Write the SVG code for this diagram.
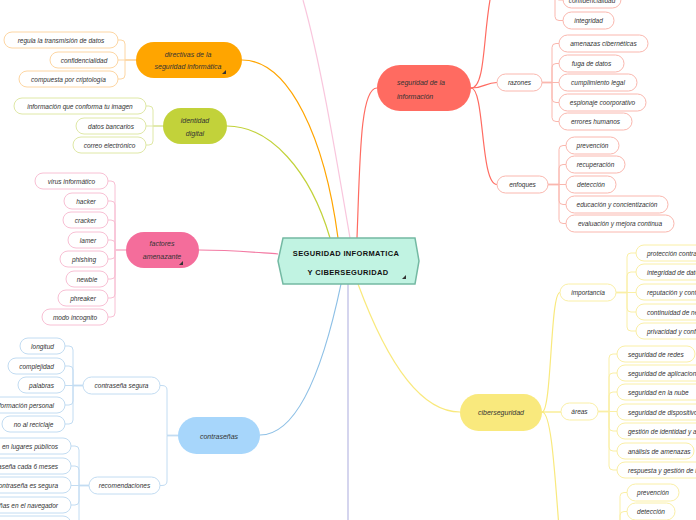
<svg xmlns="http://www.w3.org/2000/svg" width="696" height="520" viewBox="0 0 696 520">
<style>
.t{font-family:"Liberation Sans",Arial,sans-serif;font-style:italic;font-size:6.5px;fill:#333;text-anchor:middle;dominant-baseline:central}
.ts{text-anchor:start}
.te{text-anchor:end}
.m{font-family:"Liberation Sans",Arial,sans-serif;font-style:italic;font-size:7px;fill:#333;text-anchor:middle;dominant-baseline:central}
.title{font-family:"Liberation Sans",Arial,sans-serif;font-weight:bold;font-size:7.5px;letter-spacing:0.35px;fill:#111;text-anchor:middle;dominant-baseline:central}
.b{fill:#fff;stroke-width:1}
.co{stroke:#fdd6a3}.cg{stroke:#dfe8a6}.cp{stroke:#f8c0d4}.cb{stroke:#c2dcf2}.cr{stroke:#fab7ae}.cy{stroke:#faefa6}
path{fill:none}
.lo{stroke:#fdd6a3}.lg{stroke:#dfe8a6}.lp{stroke:#f8c0d4}.lb{stroke:#c2dcf2}.lr{stroke:#fab7ae}.ly{stroke:#faefa6}
.w1{stroke-width:1}.w2{stroke-width:1.8}
.tri{fill:#333}
</style>
<g id="connectors">
<path d="M338,238 C325,140 290,60 242,60" stroke="#ffa500" stroke-width="1.2"/>
<path d="M330,238 C310,170 270,126 227,126" stroke="#c2d23a" stroke-width="1.2"/>
<path d="M278,254 C250,252 230,250 199,250" stroke="#f37aa3" stroke-width="1.2"/>
<path d="M350,238 C335,150 320,60 303,0" stroke="#f9c6dd" stroke-width="1.2"/>
<path d="M341,284 C325,360 300,435 260,435" stroke="#8ec0e6" stroke-width="1.2"/>
<path d="M348,284 V520" stroke="#d5d5ee" stroke-width="2"/>
<path d="M357,238 C360,160 360,88 377,88" stroke="#ff6b61" stroke-width="1.2"/>
<path d="M358,284 C375,330 410,412 460,412" stroke="#f9e97d" stroke-width="1.2"/>
<path d="M471,88 C485,88 483,40 490,0" stroke="#ff6b61" stroke-width="1.2"/>
<path d="M471,88 C485,88 485,82.5 497,82.5" stroke="#ff6b61" stroke-width="1.2"/>
<path d="M471,88 C485,88 480,184.5 497,184.5" stroke="#ff6b61" stroke-width="1.2"/>
<path d="M542,412 C552,412 550,292.5 560,292.5" stroke="#f9e97d" stroke-width="1.2"/>
<path d="M542,412 H561" stroke="#f9e97d" stroke-width="1.2"/>
<path d="M542,412 C552,412 555,480 560,540" stroke="#f9e97d" stroke-width="1.2"/>
<path class="lo w2" d="M136,60 H125"/>
<path class="lo w1" d="M125,60 V44 Q125,40 121,40 H118 M125,60 H118 M125,60 V75 Q125,79 121,79 H118"/>
<path class="lg w2" d="M163,126 H153"/>
<path class="lg w1" d="M153,126 V110 Q153,106 149,106 H146 M153,126 H146 M153,126 V141 Q153,145 149,145 H146"/>
<path class="lp w2" d="M126,250 H115"/>
<path class="lp w1" d="M115,250 V185 Q115,181 111,181 H108 M115,250 V205 Q115,201 111,201 H108 M115,250 V224 Q115,220 111,220 H108 M115,250 V244 Q115,240 111,240 H108 M115,250 V255 Q115,259 111,259 H108 M115,250 V275 Q115,279 111,279 H108 M115,250 V294 Q115,298 111,298 H108 M115,250 V313 Q115,317 111,317 H108"/>
<path class="lb w2" d="M178,435.5 H167"/>
<path class="lb w1" d="M167,435.5 V390 Q167,385.5 162,385.5 H160 M167,435.5 V481 Q167,485.5 162,485.5 H160"/>
<path class="lb w2" d="M83,385.5 H73"/>
<path class="lb w1" d="M73,385.5 V350 Q73,346 69,346 H65 M73,385.5 V370 Q73,366 69,366 H65 M73,385.5 H65 M73,385.5 V401 Q73,405 69,405 H65 M73,385.5 V420 Q73,424 69,424 H65"/>
<path class="lb w2" d="M89,485.5 H79"/>
<path class="lb w1" d="M79,485.5 V450 Q79,446 75,446 H71 M79,485.5 V470 Q79,466 75,466 H71 M79,485.5 H71 M79,485.5 V501 Q79,505 75,505 H71 M79,485.5 V520 Q79,524 75,524 H71"/>
<path class="lr w2" d="M542,82.5 H552"/>
<path class="lr w1" d="M552,82.5 V47.5 Q552,43.5 556,43.5 H559 M552,82.5 V67.5 Q552,63.5 556,63.5 H559 M552,82.5 H559 M552,82.5 V98.5 Q552,102.5 556,102.5 H559 M552,82.5 V117.5 Q552,121.5 556,121.5 H559"/>
<path class="lr w2" d="M548,184.5 H559"/>
<path class="lr w1" d="M559,184.5 V149.5 Q559,145.5 563,145.5 H566 M559,184.5 V168.5 Q559,164.5 563,164.5 H566 M559,184.5 H566 M559,184.5 V200.5 Q559,204.5 563,204.5 H566 M559,184.5 V219.5 Q559,223.5 563,223.5 H566"/>
<path class="lr w1" d="M555,-20 V-4 Q555,0 559,0 H563 M555,-20 V16.5 Q555,20.5 559,20.5 H563"/>
<path class="ly w2" d="M616,292.5 H627"/>
<path class="ly w1" d="M627,292.5 V257 Q627,253 631,253 H636 M627,292.5 V276 Q627,272 631,272 H636 M627,292.5 H636 M627,292.5 V308 Q627,312 631,312 H636 M627,292.5 V327 Q627,331 631,331 H636"/>
<path class="ly w2" d="M598,411.5 H609"/>
<path class="ly w1" d="M609,411.5 V358 Q609,354 613,354 H617 M609,411.5 V377 Q609,373 613,373 H617 M609,411.5 V396 Q609,392 613,392 H617 M609,411.5 H617 M609,411.5 V427 Q609,431 613,431 H617 M609,411.5 V447 Q609,451 613,451 H617 M609,411.5 V466 Q609,470 613,470 H617"/>
<path class="ly w1" d="M620,540 V496.5 Q620,492.5 624,492.5 H627 M620,540 V515.5 Q620,511.5 624,511.5 H627"/>
</g>

<g id="central">
<polygon points="283,238 415,238 419,261 415,284 283,284 278,261" fill="#c1f3e2" stroke="#74b9a3" stroke-width="1.5"/>
<text class="title" x="346" y="253">SEGURIDAD INFORMATICA</text>
<text class="title" x="348" y="272">Y CIBERSEGURIDAD</text>
<polygon class="tri" points="402,279 406,279 406,275"/>
</g>

<g id="directivas">
<rect x="136" y="42" width="106" height="36" rx="18" fill="#ffa500"/>
<text class="m" x="188" y="54">directivas de la</text>
<text class="m" x="188" y="66">seguridad informática</text>
<polygon class="tri" points="222,74 226,74 226,70"/>
</g>
<g id="dir-c1"><rect class="b co" x="4" y="32" width="114" height="16" rx="8"/><text class="t" x="61" y="40">regula la transmisión de datos</text></g>
<g id="dir-c2"><rect class="b co" x="50" y="52" width="68" height="16" rx="8"/><text class="t" x="84" y="60">confidencialidad</text></g>
<g id="dir-c3"><rect class="b co" x="19" y="71" width="99" height="16" rx="8"/><text class="t" x="68.5" y="79">compuesta por criptología</text></g>

<g id="identidad">
<rect x="163" y="108" width="64" height="36" rx="18" fill="#c2d23a"/>
<text class="m" x="195" y="120">identidad</text>
<text class="m" x="195" y="133">digital</text>
</g>
<g id="id-c1"><rect class="b cg" x="14" y="98" width="132" height="16" rx="8"/><text class="t" x="80" y="106">información que conforma tu imagen</text></g>
<g id="id-c2"><rect class="b cg" x="76" y="118" width="70" height="16" rx="8"/><text class="t" x="111" y="126">datos bancarios</text></g>
<g id="id-c3"><rect class="b cg" x="73" y="137" width="73" height="16" rx="8"/><text class="t" x="109.5" y="145">correo electrónico</text></g>

<g id="factores">
<rect x="126" y="232" width="73" height="36" rx="18" fill="#f46d9b"/>
<text class="m" x="162" y="243">factores</text>
<text class="m" x="162" y="256">amenazante</text>
<polygon class="tri" points="179,265 183,265 183,261"/>
</g>
<g id="fa-c1"><rect class="b cp" x="35" y="173" width="73" height="16" rx="8"/><text class="t" x="71.5" y="181">virus informático</text></g>
<g id="fa-c2"><rect class="b cp" x="64" y="193" width="44" height="16" rx="8"/><text class="t" x="86" y="201">hacker</text></g>
<g id="fa-c3"><rect class="b cp" x="63" y="212" width="45" height="16" rx="8"/><text class="t" x="85.5" y="220">cracker</text></g>
<g id="fa-c4"><rect class="b cp" x="68" y="232" width="40" height="16" rx="8"/><text class="t" x="88" y="240">lamer</text></g>
<g id="fa-c5"><rect class="b cp" x="60" y="251" width="48" height="16" rx="8"/><text class="t" x="84" y="259">phishing</text></g>
<g id="fa-c6"><rect class="b cp" x="66" y="271" width="42" height="16" rx="8"/><text class="t" x="87" y="279">newbie</text></g>
<g id="fa-c7"><rect class="b cp" x="58" y="290" width="50" height="16" rx="8"/><text class="t" x="83" y="298">phreaker</text></g>
<g id="fa-c8"><rect class="b cp" x="42" y="309" width="66" height="16" rx="8"/><text class="t" x="75" y="317">modo incognito</text></g>

<g id="contrasenas">
<rect x="178" y="417" width="82" height="37" rx="18.5" fill="#a7d6fb"/>
<text class="m" x="219" y="436">contraseñas</text>
</g>
<g id="co-c1"><rect class="b cb" x="83" y="377" width="77" height="17" rx="8.5"/><text class="t" x="121.5" y="385.5">contraseña segura</text></g>
<g id="co-c2"><rect class="b cb" x="89" y="477" width="71" height="17" rx="8.5"/><text class="t" x="124.5" y="485.5">recomendaciones</text></g>
<g id="cs-1"><rect class="b cb" x="20" y="338" width="45" height="16" rx="8"/><text class="t" x="42.5" y="346">longitud</text></g>
<g id="cs-2"><rect class="b cb" x="8" y="358" width="57" height="16" rx="8"/><text class="t" x="36.5" y="366">complejidad</text></g>
<g id="cs-3"><rect class="b cb" x="18" y="377" width="47" height="16" rx="8"/><text class="t" x="41.5" y="385">palabras</text></g>
<g id="cs-4"><rect class="b cb" x="-20" y="397" width="85" height="16" rx="8"/><text class="t te" x="54" y="405">información personal</text></g>
<g id="cs-5"><rect class="b cb" x="2" y="416" width="63" height="16" rx="8"/><text class="t" x="33.5" y="424">no al reciclaje</text></g>
<g id="re-1"><rect class="b cb" x="-40" y="438" width="111" height="16" rx="8"/><text class="t te" x="58" y="446">en lugares públicos</text></g>
<g id="re-2"><rect class="b cb" x="-40" y="458" width="111" height="16" rx="8"/><text class="t te" x="58" y="466">contraseña cada 6 meses</text></g>
<g id="re-3"><rect class="b cb" x="-40" y="477" width="111" height="16" rx="8"/><text class="t te" x="58" y="485">contraseña es segura</text></g>
<g id="re-4"><rect class="b cb" x="-40" y="497" width="111" height="16" rx="8"/><text class="t te" x="58" y="505">contraseñas en el navegador</text></g>
<g id="re-5"><rect class="b cb" x="-30" y="516" width="101" height="16" rx="8"/></g>

<g id="seguridad-info">
<rect x="377" y="65" width="94" height="46" rx="23" fill="#ff6b61"/>
<text class="m" x="397" y="82" style="text-anchor:start">seguridad de la</text>
<text class="m" x="397" y="96" style="text-anchor:start">información</text>
</g>
<g id="si-top1"><rect class="b cr" x="563" y="-9" width="58" height="17" rx="8.5"/><text class="t" x="592" y="0">confidencialidad</text></g>
<g id="si-top2"><rect class="b cr" x="563" y="12" width="51" height="17" rx="8.5"/><text class="t" x="588.5" y="20.5">integridad</text></g>
<g id="razones"><rect class="b cr" x="497" y="74" width="45" height="17" rx="8.5"/><text class="t" x="519.5" y="82.5">razones</text></g>
<g id="ra-1"><rect class="b cr" x="559" y="35" width="89" height="17" rx="8.5"/><text class="t" x="603.5" y="43.5">amenazas cibernéticas</text></g>
<g id="ra-2"><rect class="b cr" x="559" y="55" width="65" height="17" rx="8.5"/><text class="t" x="591.5" y="63.5">fuga de datos</text></g>
<g id="ra-3"><rect class="b cr" x="559" y="74" width="78" height="17" rx="8.5"/><text class="t" x="598" y="82.5">cumplimiento legal</text></g>
<g id="ra-4"><rect class="b cr" x="559" y="94" width="87" height="17" rx="8.5"/><text class="t" x="602.5" y="102.5">espionaje coorporativo</text></g>
<g id="ra-5"><rect class="b cr" x="559" y="113" width="73" height="17" rx="8.5"/><text class="t" x="595.5" y="121.5">errores humanos</text></g>
<g id="enfoques"><rect class="b cr" x="497" y="176" width="51" height="17" rx="8.5"/><text class="t" x="522.5" y="184.5">enfoques</text></g>
<g id="en-1"><rect class="b cr" x="566" y="137" width="53" height="17" rx="8.5"/><text class="t" x="592.5" y="145.5">prevención</text></g>
<g id="en-2"><rect class="b cr" x="566" y="156" width="59" height="17" rx="8.5"/><text class="t" x="595.5" y="164.5">recuperación</text></g>
<g id="en-3"><rect class="b cr" x="566" y="176" width="50" height="17" rx="8.5"/><text class="t" x="591" y="184.5">detección</text></g>
<g id="en-4"><rect class="b cr" x="566" y="196" width="102" height="17" rx="8.5"/><text class="t" x="617" y="204.5">educación y concientización</text></g>
<g id="en-5"><rect class="b cr" x="566" y="215" width="108" height="17" rx="8.5"/><text class="t" x="620" y="223.5">evaluación y mejora continua</text></g>

<g id="ciberseguridad">
<rect x="460" y="394" width="82" height="37" rx="18.5" fill="#f9e97d"/>
<text class="m" x="501" y="412.5">ciberseguridad</text>
</g>
<g id="importancia"><rect class="b cy" x="560" y="284" width="56" height="17" rx="8.5"/><text class="t" x="588" y="292.5">importancia</text></g>
<g id="im-1"><rect class="b cy" x="636" y="245" width="100" height="16" rx="8"/><text class="t" x="647" y="253" style="text-anchor:start">protección contra amenazas</text></g>
<g id="im-2"><rect class="b cy" x="636" y="264" width="100" height="16" rx="8"/><text class="t" x="647" y="272" style="text-anchor:start">integridad de datos</text></g>
<g id="im-3"><rect class="b cy" x="636" y="284" width="100" height="16" rx="8"/><text class="t" x="647" y="292" style="text-anchor:start">reputación y confianza</text></g>
<g id="im-4"><rect class="b cy" x="636" y="304" width="100" height="16" rx="8"/><text class="t" x="647" y="312" style="text-anchor:start">continuidad de negocio</text></g>
<g id="im-5"><rect class="b cy" x="636" y="323" width="100" height="16" rx="8"/><text class="t" x="647" y="331" style="text-anchor:start">privacidad y confidencialidad</text></g>
<g id="areas"><rect class="b cy" x="561" y="403" width="37" height="17" rx="8.5"/><text class="t" x="579.5" y="411.5">áreas</text></g>
<g id="ar-1"><rect class="b cy" x="617" y="346" width="78" height="16" rx="8"/><text class="t" x="628" y="354" style="text-anchor:start">seguridad de redes</text></g>
<g id="ar-2"><rect class="b cy" x="617" y="365" width="110" height="16" rx="8"/><text class="t" x="628" y="373" style="text-anchor:start">seguridad de aplicaciones</text></g>
<g id="ar-3"><rect class="b cy" x="617" y="384" width="110" height="16" rx="8"/><text class="t" x="628" y="392" style="text-anchor:start">seguridad en la nube</text></g>
<g id="ar-4"><rect class="b cy" x="617" y="404" width="110" height="16" rx="8"/><text class="t" x="628" y="412" style="text-anchor:start">seguridad de dispositivos</text></g>
<g id="ar-5"><rect class="b cy" x="617" y="423" width="110" height="16" rx="8"/><text class="t" x="628" y="431" style="text-anchor:start">gestión de identidad y acceso</text></g>
<g id="ar-6"><rect class="b cy" x="617" y="443" width="77" height="16" rx="8"/><text class="t" x="628" y="451" style="text-anchor:start">análisis de amenazas</text></g>
<g id="ar-7"><rect class="b cy" x="617" y="462" width="110" height="16" rx="8"/><text class="t" x="628" y="470" style="text-anchor:start">respuesta y gestión de incidentes</text></g>
<g id="bo-1"><rect class="b cy" x="627" y="484" width="52" height="17" rx="8.5"/><text class="t" x="653" y="492.5">prevención</text></g>
<g id="bo-2"><rect class="b cy" x="627" y="503" width="48" height="17" rx="8.5"/><text class="t" x="651" y="511.5">detección</text></g>
<g id="bo-3"><rect class="b cy" x="627" y="522" width="60" height="17" rx="8.5"/></g>
</svg>
